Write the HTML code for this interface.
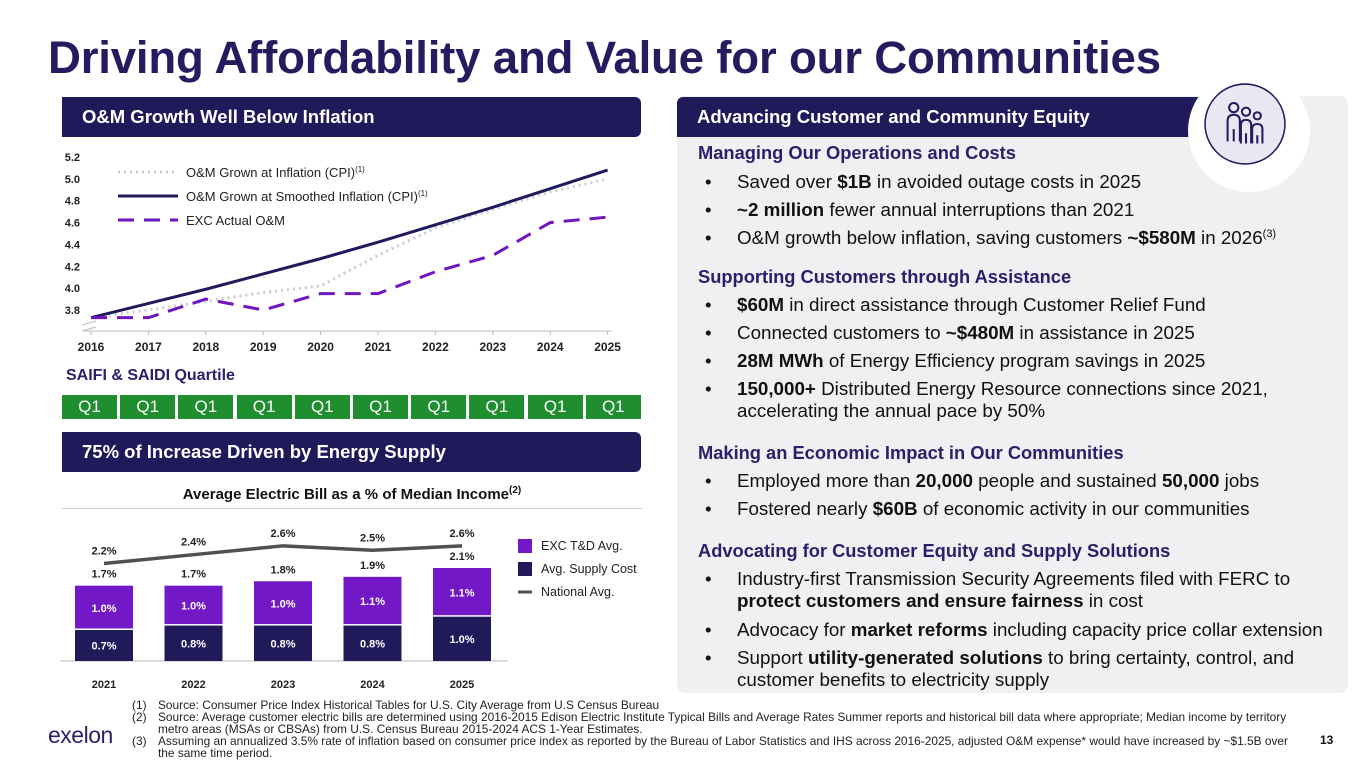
<!DOCTYPE html>
<html><head><meta charset="utf-8">
<style>
*{margin:0;padding:0;box-sizing:border-box}
body{width:1365px;height:768px;background:#fff;font-family:"Liberation Sans",Arial,sans-serif;position:relative;overflow:hidden;color:#111}
.abs{position:absolute}
.title{left:48px;top:32px;font-size:45.6px;font-weight:bold;color:#241c5e;letter-spacing:-0.2px;white-space:nowrap}
.hdr{background:#211a5a;color:#fff;font-weight:bold;font-size:18.5px;padding-left:20px;line-height:40px;height:40px;border-radius:0 6px 6px 0}
.panel{left:677px;top:96px;width:671px;height:597px;background:#f0f0f2;border-radius:8px}
.h3{left:698px;color:#2a1f6b;font-size:18.3px;font-weight:bold;line-height:22px;white-space:nowrap}
.b{left:737px;font-size:18.8px;line-height:22px;width:600px}
.b:before{content:"•";position:absolute;left:-32px}
.b sup{font-size:11px;line-height:0;vertical-align:7px}
.q{top:395px;height:24px;width:55px;background:#1e8e2e;color:#fff;font-size:17px;text-align:center;line-height:24px}
.fn{font-size:11.9px;line-height:12px;color:#222}
</style></head><body>
<div class="abs title">Driving Affordability and Value for our Communities</div>

<div class="abs hdr" style="left:62px;top:97px;width:579px">O&amp;M Growth Well Below Inflation</div>
<div class="abs panel"></div>
<div class="abs hdr" style="left:677px;top:97px;width:540px;border-radius:6px 0 0 0">Advancing Customer and Community Equity</div>
<div class="abs" style="left:1188px;top:70px;width:122px;height:122px;border-radius:50%;background:#fff"></div>
<svg class="abs" style="left:1203px;top:82px" width="84" height="84" viewBox="0 0 82 82">
<circle cx="41" cy="41" r="39" fill="#e8e8f2" stroke="#241c5e" stroke-width="1.5"/>
<g fill="none" stroke="#241c5e" stroke-width="2">
<circle cx="30" cy="25" r="4.5"/><circle cx="42" cy="29" r="4"/><circle cx="53" cy="33" r="3.5"/>
<path d="M24 58V38q0-6 6-6q6 0 6 6v20M30 46v12"/>
<path d="M37 60V42q0-5 5-5q5 0 5 5v18M42 50v10"/>
<path d="M48 60V46q0-5 5-5q5 0 5 5v14M53 52v8"/>
</g></svg>

<div>
<div class="abs h3" style="top:142px">Managing Our Operations and Costs</div>
<div class="abs b" style="top:171px">Saved over <b>$1B</b> in avoided outage costs in 2025</div>
<div class="abs b" style="top:199px"><b>~2 million</b> fewer annual interruptions than 2021</div>
<div class="abs b" style="top:227px;width:620px">O&amp;M growth below inflation, saving customers <b>~$580M</b> in 2026<sup>(3)</sup></div>
<div class="abs h3" style="top:266px">Supporting Customers through Assistance</div>
<div class="abs b" style="top:294px"><b>$60M</b> in direct assistance through Customer Relief Fund</div>
<div class="abs b" style="top:322px">Connected customers to <b>~$480M</b> in assistance in 2025</div>
<div class="abs b" style="top:350px"><b>28M MWh</b> of Energy Efficiency program savings in 2025</div>
<div class="abs b" style="top:378px;width:560px"><b>150,000+</b> Distributed Energy Resource connections since 2021, accelerating the annual pace by 50%</div>
<div class="abs h3" style="top:442px">Making an Economic Impact in Our Communities</div>
<div class="abs b" style="top:470px">Employed more than <b>20,000</b> people and sustained <b>50,000</b> jobs</div>
<div class="abs b" style="top:498px">Fostered nearly <b>$60B</b> of economic activity in our communities</div>
<div class="abs h3" style="top:540px">Advocating for Customer Equity and Supply Solutions</div>
<div class="abs b" style="top:568px;width:570px">Industry-first Transmission Security Agreements filed with FERC to <b>protect customers and ensure fairness</b> in cost</div>
<div class="abs b" style="top:619px;width:600px">Advocacy for <b>market reforms</b> including capacity price collar extension</div>
<div class="abs b" style="top:647px;width:575px">Support <b>utility-generated solutions</b> to bring certainty, control, and customer benefits to electricity supply</div>
</div>

<svg id="lc" class="abs" style="left:0;top:140px" width="660" height="220"></svg>
<div class="abs" style="left:66px;top:367px;font-size:16px;font-weight:bold;color:#2a1f6b">SAIFI &amp; SAIDI Quartile</div>
<div id="qrow"></div>

<div class="abs hdr" style="left:62px;top:432px;width:579px">75% of Increase Driven by Energy Supply</div>
<div class="abs" style="left:62px;top:485px;width:580px;text-align:center;font-size:15px;font-weight:bold">Average Electric Bill as a % of Median Income<sup style="font-size:10px">(2)</sup></div>
<div class="abs" style="left:62px;top:508px;width:580px;height:1px;background:#ccc"></div>
<svg id="bc" class="abs" style="left:0;top:510px" width="660" height="185"></svg>

<div class="abs" style="left:48px;top:722px;font-size:23px;color:#2a1f6b;letter-spacing:-0.5px">exelon</div>
<div class="abs fn" style="left:132px;top:699px;width:1185px;white-space:nowrap">
<div style="display:flex"><span style="width:26px">(1)</span><span>Source: Consumer Price Index Historical Tables for U.S. City Average from U.S Census Bureau</span></div>
<div style="display:flex"><span style="width:26px;flex:none">(2)</span><span>Source: Average customer electric bills are determined using 2016-2015 Edison Electric Institute Typical Bills and Average Rates Summer reports and historical bill data where appropriate; Median income by territory<br>metro areas (MSAs or CBSAs) from U.S. Census Bureau 2015-2024 ACS 1-Year Estimates.</span></div>
<div style="display:flex"><span style="width:26px;flex:none">(3)</span><span>Assuming an annualized 3.5% rate of inflation based on consumer price index as reported by the Bureau of Labor Statistics and IHS across 2016-2025, adjusted O&amp;M expense* would have increased by ~$1.5B over<br>the same time period.</span></div>
</div>
<div class="abs" style="left:1320px;top:733px;font-size:12px;font-weight:bold">13</div>

<script>
const years=[2016,2017,2018,2019,2020,2021,2022,2023,2024,2025];
const yTicks=[3.8,4.0,4.2,4.4,4.6,4.8,5.0,5.2];
const cpi=[3.73,3.80,3.88,3.96,4.02,4.30,4.55,4.72,4.88,5.00];
const smoothed=[3.73,3.86,3.99,4.13,4.27,4.42,4.58,4.74,4.91,5.08];
const actual=[3.73,3.73,3.90,3.80,3.95,3.95,4.15,4.30,4.60,4.65];
const quartiles=["Q1","Q1","Q1","Q1","Q1","Q1","Q1","Q1","Q1","Q1"];

const barYears=[2021,2022,2023,2024,2025];
const supply=[0.7,0.8,0.8,0.8,1.0];
const tnd=[1.0,1.0,1.0,1.1,1.1];
const totals=[1.7,1.7,1.8,1.9,2.1];
const national=[2.2,2.4,2.6,2.5,2.6];

const NS="http://www.w3.org/2000/svg";
function mk(p,t,a){const e=document.createElementNS(NS,t);for(const k in a)e.setAttribute(k,a[k]);p.appendChild(e);return e;}

const lc=document.getElementById('lc');
const lx=i=>91+i*57.4, ly=v=>170-(v-3.8)/1.4*153;
yTicks.forEach(t=>{const e=mk(lc,'text',{x:80,y:ly(t)+4,'text-anchor':'end','font-size':11,'font-weight':'bold',fill:'#222'});e.textContent=t.toFixed(1);
});
const ax=mk(lc,'line',{x1:84,x2:612,y1:191,y2:191,stroke:'#bbb','stroke-width':1});

mk(lc,'path',{d:'M82 185L96 181M82 191L96 187',stroke:'#bbb',fill:'none'});
years.forEach((y,i)=>{const e=mk(lc,'text',{x:lx(i),y:211,'text-anchor':'middle','font-size':12,'font-weight':'bold',fill:'#222'});e.textContent=y;

mk(lc,'line',{x1:lx(i),x2:lx(i),y1:191,y2:195,stroke:'#bbb'});});
function line(arr,st,name){const d=arr.map((v,i)=>(i?'L':'M')+lx(i)+' '+ly(v)).join('');const e=mk(lc,'path',Object.assign({d:d,fill:'none'},st));
}
line(cpi,{stroke:'#c8ccd8','stroke-width':3,'stroke-dasharray':'2 4'},'cpi-line');
line(smoothed,{stroke:'#1f1a5c','stroke-width':3},'smoothed-cpi-line');
line(actual,{stroke:'#6f16c0','stroke-width':3,'stroke-dasharray':'16 10'},'actual-om-line');
const leg=[["O&M Grown at Inflation (CPI)",{stroke:'#c8ccd8','stroke-width':3,'stroke-dasharray':'2 4'},true,'legend-cpi'],
["O&M Grown at Smoothed Inflation (CPI)",{stroke:'#1f1a5c','stroke-width':3},true,'legend-smoothed'],
["EXC Actual O&M",{stroke:'#6f16c0','stroke-width':3,'stroke-dasharray':'16 10'},false,'legend-actual']];
leg.forEach((l,i)=>{const yy=32+i*24;mk(lc,'line',Object.assign({x1:118,x2:178,y1:yy,y2:yy},l[1]));
const t=mk(lc,'text',{x:186,y:yy+5,'font-size':13,fill:'#222'});t.textContent=l[0];
if(l[2]){const s=mk(t,'tspan',{'font-size':8,dy:-5});s.textContent='(1)';}
});

const qr=document.getElementById('qrow');
quartiles.forEach((q,i)=>{const d=document.createElement('div');d.className='abs q';d.style.left=(62+i*58.2)+'px';d.textContent=q;
qr.appendChild(d);});

const bc=document.getElementById('bc');
const bx=i=>104+i*89.5, by=v=>151-v*44.3, bw=58;
const bl=mk(bc,'line',{x1:60,x2:508,y1:151,y2:151,stroke:'#bbb'});

barYears.forEach((y,i)=>{
 const r1=mk(bc,'rect',{x:bx(i)-bw/2,y:by(supply[i]),width:bw,height:151-by(supply[i]),fill:'#211a5a'});
 
 const r2=mk(bc,'rect',{x:bx(i)-bw/2,y:by(totals[i]),width:bw,height:by(supply[i])-by(totals[i])-1.5,fill:'#7318c7'});
 
 const t1=mk(bc,'text',{x:bx(i),y:(by(supply[i])+151)/2+4,'text-anchor':'middle','font-size':11,'font-weight':'bold',fill:'#fff'});t1.textContent=supply[i].toFixed(1)+'%';
 const t2=mk(bc,'text',{x:bx(i),y:(by(supply[i])+by(totals[i]))/2+4,'text-anchor':'middle','font-size':11,'font-weight':'bold',fill:'#fff'});t2.textContent=tnd[i].toFixed(1)+'%';
 const t3=mk(bc,'text',{x:bx(i),y:by(totals[i])-8,'text-anchor':'middle','font-size':11,'font-weight':'bold',fill:'#222'});t3.textContent=totals[i].toFixed(1)+'%';
 const t4=mk(bc,'text',{x:bx(i),y:by(national[i])-9,'text-anchor':'middle','font-size':11,'font-weight':'bold',fill:'#222'});t4.textContent=national[i].toFixed(1)+'%';
 const t5=mk(bc,'text',{x:bx(i),y:178,'text-anchor':'middle','font-size':11,'font-weight':'bold',fill:'#222'});t5.textContent=y;
 
});
const nl=mk(bc,'path',{d:national.map((v,i)=>(i?'L':'M')+bx(i)+' '+by(v)).join(''),fill:'none',stroke:'#505050','stroke-width':3.5});

[["EXC T&D Avg.",'#7318c7','rect'],["Avg. Supply Cost",'#211a5a','rect'],["National Avg.",'#505050','line']].forEach((l,i)=>{
 const yy=36+i*23;
 if(l[2]=='rect')mk(bc,'rect',{x:518,y:yy-7,width:14,height:14,fill:l[1]});else mk(bc,'line',{x1:518,x2:532,y1:yy,y2:yy,stroke:l[1],'stroke-width':3});
 const t=mk(bc,'text',{x:541,y:yy+4,'font-size':12.5,fill:'#222'});t.textContent=l[0];
 
});
</script>
</body></html>
